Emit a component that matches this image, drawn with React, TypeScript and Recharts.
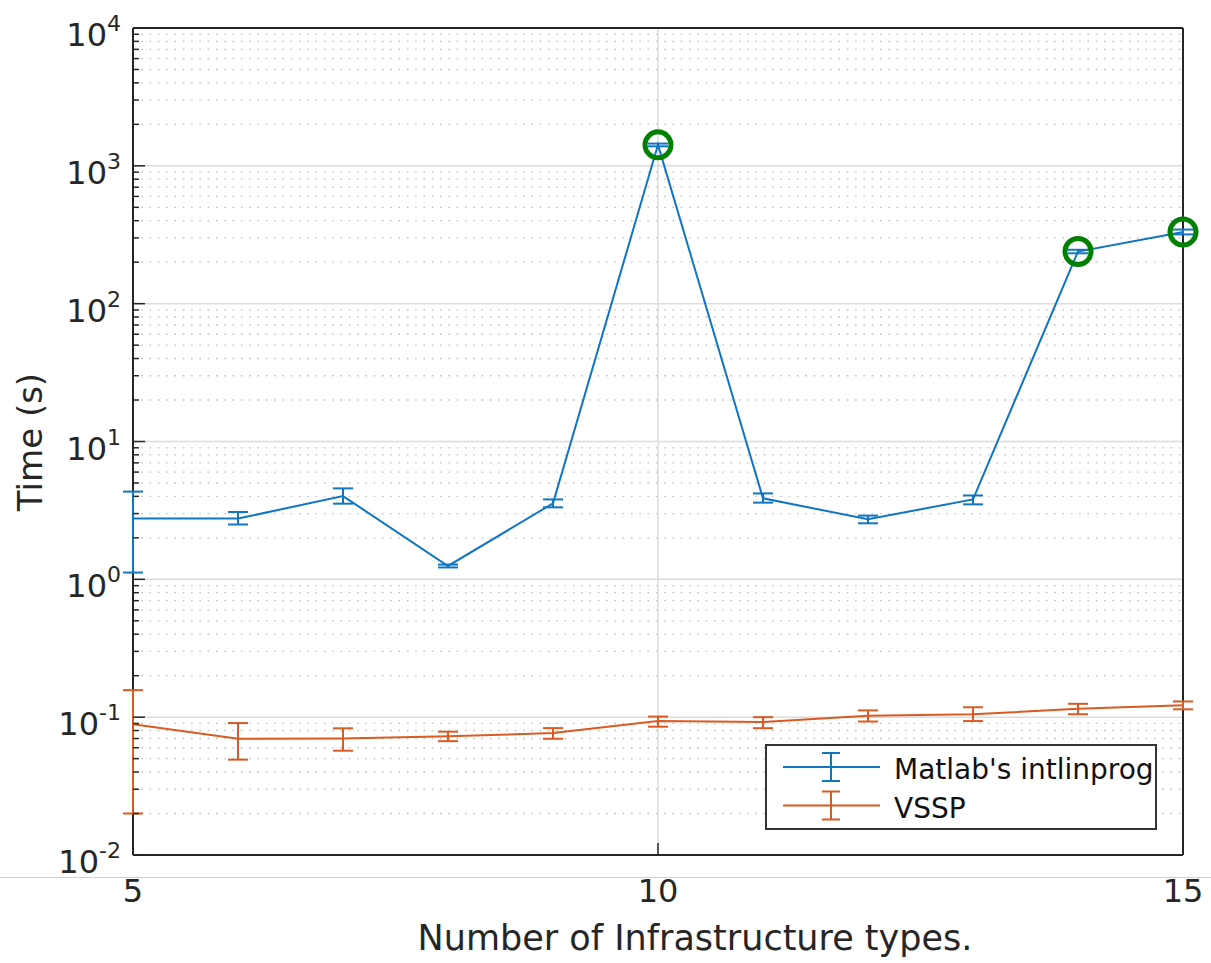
import React from 'react';
import {
  ComposedChart, Line, Scatter, XAxis, YAxis, ErrorBar, ReferenceLine, Legend,
} from 'recharts';

// ---- data ----
const infraTypes = [5, 6, 7, 8, 9, 10, 11, 12, 13, 14, 15];

const matlabTime = [2.76, 2.76, 4.02, 1.25, 3.56, 1420, 3.87, 2.73, 3.8, 239, 331];
const matlabLow = [1.12, 2.5, 3.54, 1.22, 3.33, 1385, 3.6, 2.55, 3.5, 232, 318];
const matlabHigh = [4.33, 3.08, 4.57, 1.28, 3.8, 1450, 4.2, 2.9, 4.06, 246, 345];

const vsspTime = [0.0887, 0.0698, 0.07, 0.0726, 0.0767, 0.0937, 0.0922, 0.1025, 0.105, 0.115, 0.122];
const vsspLow = [0.02, 0.0492, 0.0571, 0.067, 0.0697, 0.0853, 0.0832, 0.093, 0.0937, 0.105, 0.114];
const vsspHigh = [0.157, 0.0906, 0.083, 0.0785, 0.0833, 0.101, 0.1, 0.112, 0.118, 0.125, 0.13];

const circledX = [10, 14, 15];
const circledY = [1420, 239, 331];

const xTicks = [5, 10, 15];
const xDomain = [5, 15];
const yDomain = [0.01, 10000];
const decades = [0.01, 0.1, 1, 10, 100, 1000, 10000];
const minorMultipliers = [2, 3, 4, 5, 6, 7, 8, 9];

const seriesNames = ["Matlab's intlinprog", 'VSSP'];

// ---- style ----
const BLUE = '#1076C2';
const ORANGE = '#DB5A22';
const GREEN = '#008000';
const AXIS = '#262626';
const FONT = 'DejaVu Sans';

const data = infraTypes.map((x, i) => ({
  x,
  matlab: matlabTime[i],
  matlabErr: [matlabTime[i] - matlabLow[i], matlabHigh[i] - matlabTime[i]],
  vssp: vsspTime[i],
  vsspErr: [vsspTime[i] - vsspLow[i], vsspHigh[i] - vsspTime[i]],
}));

const circledData = circledX.map((x, i) => ({ x, y: circledY[i] }));

const minorTicks: number[] = [];
decades.slice(0, -1).forEach((d) => minorMultipliers.forEach((m) => minorTicks.push(parseFloat((d * m).toPrecision(6)))));
const yTicks = [...decades, ...minorTicks].sort((a, b) => a - b);

const isMajor = (v: number) => Math.abs(Math.log10(v) - Math.round(Math.log10(v))) < 1e-6;

const LEFT_MARGIN = 12;

const LeftTick = (props: any) => {
  const { x, y, payload } = props;
  const v = payload.value;
  const axisX = x + LEFT_MARGIN;
  const major = isMajor(v);
  return (
    <g>
      <line x1={axisX} y1={y} x2={axisX + (major ? 12 : 6)} y2={y} stroke={AXIS} strokeWidth={1.5} />
      {major && (
        <text x={x} y={y + 18} textAnchor="end" fill={AXIS} fontFamily={FONT} fontSize={32}>
          10
          <tspan fontSize={22} dy={-15}>{String(Math.round(Math.log10(v)))}</tspan>
        </text>
      )}
    </g>
  );
};

const RightTick = (props: any) => {
  const { x, y, payload } = props;
  const major = isMajor(payload.value);
  return <line x1={x} y1={y} x2={x - (major ? 12 : 6)} y2={y} stroke={AXIS} strokeWidth={1.5} />;
};

const BottomTick = (props: any) => {
  const { x, y, payload } = props;
  return (
    <g>
      <line x1={x} y1={y} x2={x} y2={y - 12} stroke={AXIS} strokeWidth={1.5} />
      <text x={x} y={y + 47} textAnchor="middle" fill={AXIS} fontFamily={FONT} fontSize={32}>
        {payload.value}
      </text>
    </g>
  );
};

const TopTick = (props: any) => {
  const { x, y } = props;
  return <line x1={x} y1={y} x2={x} y2={y + 12} stroke={AXIS} strokeWidth={1.5} />;
};

const XLabel = (props: any) => {
  const { viewBox } = props;
  return (
    <text x={viewBox.x + viewBox.width / 2 + 37} y={viewBox.y + 95} textAnchor="middle" fill={AXIS} fontFamily={FONT} fontSize={35}>
      Number of Infrastructure types.
    </text>
  );
};

const YLabel = () => (
  <text x={42} y={442} transform="rotate(-90 42 442)" textAnchor="middle" fill={AXIS} fontFamily={FONT} fontSize={34}>
    Time (s)
  </text>
);

const LegendBox = () => {
  const colors = [BLUE, ORANGE];
  return (
    <svg width={392} height={86} style={{ display: 'block' }}>
      <rect x={1} y={1} width={390} height={84} fill="#fff" stroke="#333" strokeWidth={2} />
      {seriesNames.map((name, i) => {
        const cy = 23 + i * 38.5;
        return (
          <g key={name}>
            <line x1={18} y1={cy} x2={115} y2={cy} stroke={colors[i]} strokeWidth={2} />
            <line x1={66} y1={cy - 14} x2={66} y2={cy + 14} stroke={colors[i]} strokeWidth={2} />
            <line x1={57} y1={cy - 14} x2={75} y2={cy - 14} stroke={colors[i]} strokeWidth={2} />
            <line x1={57} y1={cy + 14} x2={75} y2={cy + 14} stroke={colors[i]} strokeWidth={2} />
            <text x={129} y={cy + 12} fill="#111" fontFamily={FONT} fontSize={28}>
              {name}
            </text>
          </g>
        );
      })}
    </svg>
  );
};

const GreenCircle = (props: any) => (
  <circle cx={props.cx} cy={props.cy} r={13} fill="none" stroke={GREEN} strokeWidth={5} />
);

export default function App() {
  return (
    <div style={{ position: 'absolute', left: 0, top: 0, width: 1211, height: 963, background: '#fff' }}>
      <ComposedChart
        width={1211}
        height={963}
        data={data}
        margin={{ top: 28, right: 28, bottom: 0, left: 0 }}
      >
        <XAxis
          dataKey="x"
          type="number"
          domain={xDomain}
          ticks={xTicks}
          interval={0}
          height={108}
          tickSize={0}
          tickMargin={0}
          tickLine={false}
          tick={<BottomTick />}
          axisLine={false}
          label={<XLabel />}
        />
        <XAxis
          xAxisId="top"
          orientation="top"
          dataKey="x"
          type="number"
          domain={xDomain}
          ticks={xTicks}
          interval={0}
          height={0}
          tickSize={0}
          tickMargin={0}
          tickLine={false}
          tick={<TopTick />}
          axisLine={false}
        />
        <YAxis
          type="number"
          scale="log"
          domain={yDomain}
          ticks={yTicks}
          interval={0}
          width={133}
          tickSize={0}
          tickMargin={LEFT_MARGIN}
          tickLine={false}
          tick={<LeftTick />}
          axisLine={false}
          label={<YLabel />}
        />
        <YAxis
          yAxisId="right"
          orientation="right"
          type="number"
          scale="log"
          domain={yDomain}
          ticks={yTicks}
          interval={0}
          width={0}
          tickSize={0}
          tickMargin={0}
          tickLine={false}
          tick={<RightTick />}
          axisLine={false}
        />

        {minorTicks.map((v) => (
          <ReferenceLine key={'m' + v} y={v} stroke="#bcbcbc" strokeWidth={1.3} strokeDasharray="1.5 6.8" />
        ))}
        {decades.slice(1, -1).map((v) => (
          <ReferenceLine key={'M' + v} y={v} stroke="#dcdcdc" strokeWidth={1.5} />
        ))}
        <ReferenceLine x={10} stroke="#dcdcdc" strokeWidth={1.5} />

        {/* plot box */}
        <ReferenceLine x={xDomain[0]} stroke={AXIS} strokeWidth={2} />
        <ReferenceLine x={xDomain[1]} stroke={AXIS} strokeWidth={2} />
        <ReferenceLine y={yDomain[0]} stroke={AXIS} strokeWidth={2} />
        <ReferenceLine y={yDomain[1]} stroke={AXIS} strokeWidth={2} />

        <Line
          dataKey="matlab"
          name={seriesNames[0]}
          stroke={BLUE}
          strokeWidth={2}
          dot={false}
          activeDot={false}
          isAnimationActive={false}
        >
          <ErrorBar dataKey="matlabErr" width={10} stroke={BLUE} strokeWidth={2} direction="y" isAnimationActive={false} />
        </Line>
        <Line
          dataKey="vssp"
          name={seriesNames[1]}
          stroke={ORANGE}
          strokeWidth={2}
          dot={false}
          activeDot={false}
          isAnimationActive={false}
        >
          <ErrorBar dataKey="vsspErr" width={10} stroke={ORANGE} strokeWidth={2} direction="y" isAnimationActive={false} />
        </Line>
        <Scatter data={circledData} dataKey="y" shape={<GreenCircle />} isAnimationActive={false} legendType="none" />

        <Legend
          layout="vertical"
          align="center"
          verticalAlign="middle"
          content={<LegendBox />}
          wrapperStyle={{ left: 765, top: 744, width: 392, height: 86 }}
        />
      </ComposedChart>
      <div style={{ position: 'absolute', left: 0, top: 877, width: 1211, height: 1, background: '#cfcfcf' }} />
    </div>
  );
}
